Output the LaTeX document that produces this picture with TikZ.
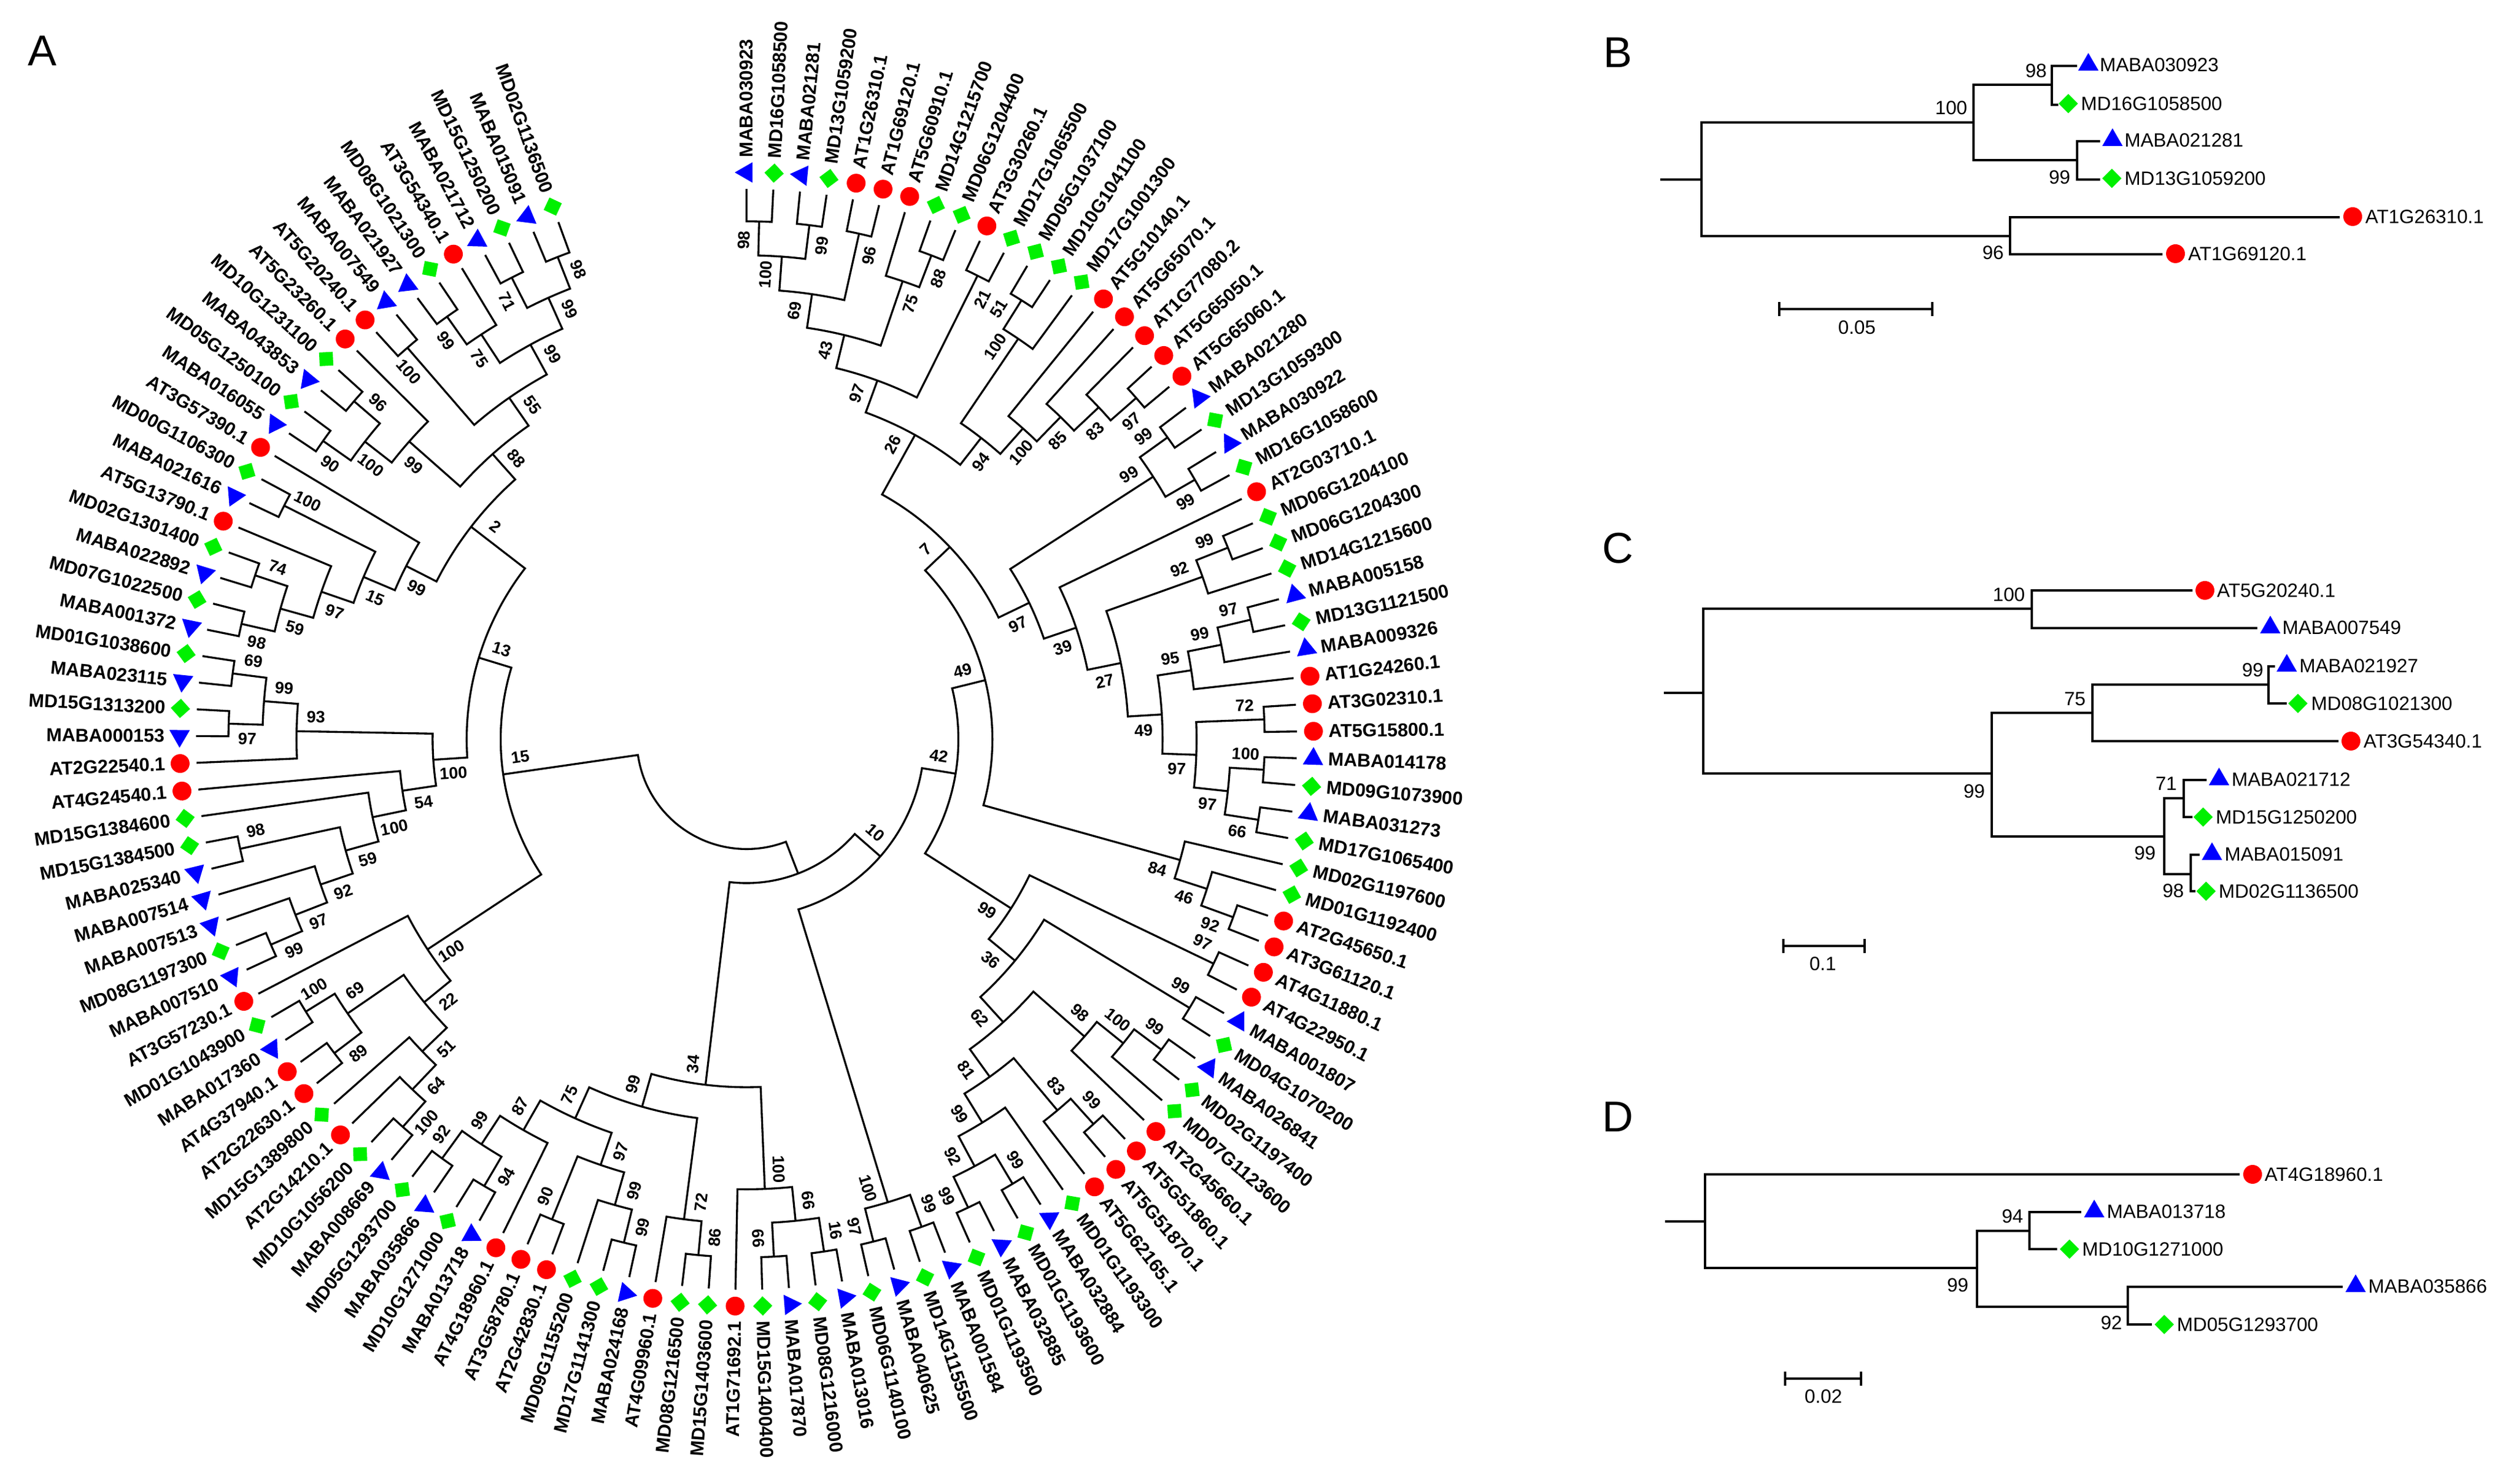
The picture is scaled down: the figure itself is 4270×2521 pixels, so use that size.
\documentclass[tikz,border=0pt]{standalone}
\usepackage{fontspec}
\setmainfont{Liberation Sans}
\usetikzlibrary{shapes.geometric}
\definecolor{cR}{RGB}{255,0,0}
\definecolor{cG}{RGB}{0,240,0}
\definecolor{cB}{RGB}{0,0,255}
\tikzset{
  br/.style={line width=1pt},
  pb/.style={line width=1.15pt},
  mR/.style={circle, fill=cR, inner sep=0pt, minimum size=9.6pt},
  mG/.style={diamond, fill=cG, inner sep=0pt, minimum width=10pt, minimum height=10pt},
  mB/.style={regular polygon, regular polygon sides=3, fill=cB, inner sep=0pt, minimum size=12pt},
  lab/.style={font=\fontsize{9.5}{11}\selectfont\bfseries, inner sep=0pt},
  bs/.style={font=\fontsize{8.4}{9}\selectfont\bfseries, inner sep=0pt},
  ptxt/.style={font=\fontsize{9.8}{11}\selectfont, inner sep=0pt},
  plet/.style={font=\fontsize{22}{26}\selectfont, inner sep=0pt},
}
% leaf: index, marker type, name
\newcommand\leaf[3]{%
  \pgfmathsetmacro\lfA{90-(#1-1)*2.787}%
  \expandafter\xdef\csname tA@#1\endcsname{\lfA}%
  \expandafter\xdef\csname tR@#1\endcsname{935}%
  \expandafter\gdef\csname tL@#1\endcsname{}%
  \edef\lfdo{\noexpand\node[m#2, rotate=\lfA] (L#1) at (\lfA:963) {};}\lfdo
  \pgfmathtruncatemacro\lfS{\lfA>-90 ? 1 : 0}%
  \ifnum\lfS=1
    \node[lab, anchor=west, rotate=\lfA] at (\lfA:988) {#3};
  \else
    \pgfmathsetmacro\lfB{\lfA+180}%
    \node[lab, anchor=east, rotate=\lfB] at (\lfA:988) {#3};
  \fi
}
% bootstrap label of a child
\newcommand\bslab[4]{%
  \edef\bsT{\csname tL@#1\endcsname}%
  \ifx\bsT\empty\else
    \pgfmathsetmacro\bsR{#3-32}%
    \pgfmathsetmacro\bsA{#2+#4*25/\bsR*57.2958}%
    \pgfmathsetmacro\bsRot{#2>-90 ? #2 : #2+180}%
    \node[bs, rotate=\bsRot] at (\bsA:\bsR) {\bsT};
  \fi
}
% internal node: name, child1, child2, height, bootstrap
\newcommand\tn[5]{%
  \pgfmathsetmacro\tnA{\csname tA@#2\endcsname}%
  \pgfmathsetmacro\tnB{\csname tA@#3\endcsname}%
  \edef\tnRa{\csname tR@#2\endcsname}%
  \edef\tnRb{\csname tR@#3\endcsname}%
  \pgfmathsetmacro\tnR{937.8-57.8*#4}%
  \pgfmathsetmacro\tnM{(\tnA+\tnB)/2}%
  \expandafter\xdef\csname tA@#1\endcsname{\tnM}%
  \expandafter\xdef\csname tR@#1\endcsname{\tnR}%
  \expandafter\gdef\csname tL@#1\endcsname{#5}%
  \draw[br] (\tnA:\tnRa) -- (\tnA:\tnR) arc[start angle=\tnA, end angle=\tnB, radius=\tnR] -- (\tnB:\tnRb);
  \coordinate (#1) at (\tnM:\tnR);
  \bslab{#2}{\tnA}{\tnRa}{1}%
  \bslab{#3}{\tnB}{\tnRb}{(-1)}%
}
\begin{document}
\begin{tikzpicture}[x=0.3pt,y=0.3pt]
\fill[white] (0,0) rectangle (4270,2521);
\useasboundingbox (0,0) rectangle (4270,2521);

%================ Panel A: circular tree ================
\begin{scope}[shift={(1268,1265)}]
\foreach \i/\ty/\nm in {
1/B/MABA030923, 2/G/MD16G1058500, 3/B/MABA021281, 4/G/MD13G1059200,
5/R/AT1G26310.1, 6/R/AT1G69120.1, 7/R/AT5G60910.1, 8/G/MD14G1215700,
9/G/MD06G1204400, 10/R/AT3G30260.1, 11/G/MD17G1065500, 12/G/MD05G1037100,
13/G/MD10G1041100, 14/G/MD17G1001300, 15/R/AT5G10140.1, 16/R/AT5G65070.1,
17/R/AT1G77080.2, 18/R/AT5G65050.1, 19/R/AT5G65060.1, 20/B/MABA021280,
21/G/MD13G1059300, 22/B/MABA030922, 23/G/MD16G1058600, 24/R/AT2G03710.1,
25/G/MD06G1204100, 26/G/MD06G1204300, 27/G/MD14G1215600, 28/B/MABA005158,
29/G/MD13G1121500, 30/B/MABA009326, 31/R/AT1G24260.1, 32/R/AT3G02310.1,
33/R/AT5G15800.1, 34/B/MABA014178, 35/G/MD09G1073900, 36/B/MABA031273,
37/G/MD17G1065400, 38/G/MD02G1197600, 39/G/MD01G1192400, 40/R/AT2G45650.1,
41/R/AT3G61120.1, 42/R/AT4G11880.1, 43/R/AT4G22950.1, 44/B/MABA001807,
45/G/MD04G1070200, 46/B/MABA026841, 47/G/MD02G1197400, 48/G/MD07G1123600,
49/R/AT2G45660.1, 50/R/AT5G51860.1, 51/R/AT5G51870.1, 52/R/AT5G62165.1,
53/G/MD01G1193300, 54/B/MABA032884, 55/G/MD01G1193600, 56/B/MABA032885,
57/G/MD01G1193500, 58/B/MABA001584, 59/G/MD14G1155500, 60/B/MABA040625,
61/G/MD06G1140100, 62/B/MABA013016, 63/G/MD08G1216000, 64/B/MABA017870,
65/G/MD15G1400400, 66/R/AT1G71692.1, 67/G/MD15G1403600, 68/G/MD08G1216500,
69/R/AT4G09960.1, 70/B/MABA024168, 71/G/MD17G1141300, 72/G/MD09G1155200,
73/R/AT2G42830.1, 74/R/AT3G58780.1, 75/R/AT4G18960.1, 76/B/MABA013718,
77/G/MD10G1271000, 78/B/MABA035866, 79/G/MD05G1293700, 80/B/MABA008669,
81/G/MD10G1056200, 82/R/AT2G14210.1, 83/G/MD15G1389800, 84/R/AT2G22630.1,
85/R/AT4G37940.1, 86/B/MABA017360, 87/G/MD01G1043900, 88/R/AT3G57230.1,
89/B/MABA007510, 90/G/MD08G1197300, 91/B/MABA007513, 92/B/MABA007514,
93/B/MABA025340, 94/G/MD15G1384500, 95/G/MD15G1384600, 96/R/AT4G24540.1,
97/R/AT2G22540.1, 98/B/MABA000153, 99/G/MD15G1313200, 100/B/MABA023115,
101/G/MD01G1038600, 102/B/MABA001372, 103/G/MD07G1022500, 104/B/MABA022892,
105/G/MD02G1301400, 106/R/AT5G13790.1, 107/B/MABA021616, 108/G/MD00G1106300,
109/R/AT3G57390.1, 110/B/MABA016055, 111/G/MD05G1250100, 112/B/MABA043853,
113/G/MD10G1231100, 114/R/AT5G23260.1, 115/R/AT5G20240.1, 116/B/MABA007549,
117/B/MABA021927, 118/G/MD08G1021300, 119/R/AT3G54340.1, 120/B/MABA021712,
121/G/MD15G1250200, 122/B/MABA015091, 123/G/MD02G1136500}
{\leaf{\i}{\ty}{\nm}}

\tn{a98}{1}{2}{1}{98}
\tn{a99}{3}{4}{1}{99}
\tn{a100}{a98}{a99}{2}{100}
\tn{a96}{5}{6}{1}{96}
\tn{a69}{a100}{a96}{3}{69}
\tn{a88}{8}{9}{1}{88}
\tn{a75}{7}{a88}{2}{75}
\tn{a43}{a69}{a75}{4}{43}
\tn{a21}{10}{11}{1}{21}
\tn{a97}{a43}{a21}{5}{97}
\tn{a51}{12}{13}{1}{51}
\tn{a10c}{a51}{14}{2}{100}
\tn{b97}{18}{19}{1}{97}
\tn{b83}{17}{b97}{2}{83}
\tn{b85}{16}{b83}{3}{85}
\tn{b100}{15}{b85}{4}{100}
\tn{a94}{a10c}{b100}{5}{94}
\tn{a26}{a97}{a94}{6}{26}
\tn{c99a}{20}{21}{1}{99}
\tn{c99b}{22}{23}{1}{99}
\tn{c99c}{c99a}{c99b}{2}{99}
\tn{c99d}{25}{26}{1}{99}
\tn{c92}{c99d}{27}{2}{92}
\tn{c97a}{28}{29}{1}{97}
\tn{c99e}{c97a}{30}{2}{99}
\tn{c95}{c99e}{31}{3}{95}
\tn{c72}{32}{33}{1}{72}
\tn{c100}{34}{35}{1}{100}
\tn{c66}{36}{37}{1}{66}
\tn{c97b}{c100}{c66}{2}{97}
\tn{c97c}{c72}{c97b}{3}{97}
\tn{c49}{c95}{c97c}{4}{49}
\tn{c27}{c92}{c49}{5}{27}
\tn{c39}{24}{c27}{6}{39}
\tn{c97d}{c99c}{c39}{7}{97}
\tn{a7}{a26}{c97d}{8}{7}
\tn{c92b}{40}{41}{1}{92}
\tn{c46}{39}{c92b}{2}{46}
\tn{c84}{38}{c46}{3}{84}
\tn{n49}{a7}{c84}{9}{49}
\tn{z97}{42}{43}{1}{97}
\tn{z99a}{44}{45}{1}{99}
\tn{z99b}{46}{47}{1}{99}
\tn{z100}{z99b}{48}{2}{100}
\tn{z98}{z100}{49}{3}{98}
\tn{z99c}{50}{51}{1}{99}
\tn{z83}{z99c}{52}{2}{83}
\tn{z99d}{54}{55}{1}{99}
\tn{z99e}{56}{57}{1}{99}
\tn{z92}{z99d}{z99e}{2}{92}
\tn{z99f}{53}{z92}{3}{99}
\tn{z81}{z83}{z99f}{4}{81}
\tn{z62}{z98}{z81}{5}{62}
\tn{z36}{z99a}{z62}{6}{36}
\tn{zz}{z97}{z36}{7}{99}
\tn{n42}{n49}{zz}{10}{42}
\tn{w99a}{58}{59}{1}{99}
\tn{w99b}{60}{61}{1}{97}
\tn{ww}{w99a}{w99b}{2}{100}
\tn{n10}{n42}{ww}{11}{10}
\tn{v97}{62}{63}{1}{16}
\tn{v66}{64}{65}{1}{66}
\tn{vx}{v97}{v66}{2}{66}
\tn{v2}{vx}{66}{3}{100}
\tn{v86}{67}{68}{1}{86}
\tn{v1a}{v86}{69}{2}{72}
\tn{v99a}{70}{71}{1}{99}
\tn{v99b}{v99a}{72}{2}{99}
\tn{v90}{73}{74}{1}{90}
\tn{v1b1}{v99b}{v90}{3}{97}
\tn{v94}{76}{77}{1}{94}
\tn{v92}{78}{79}{1}{92}
\tn{v99c}{v94}{v92}{2}{99}
\tn{v1b2}{75}{v99c}{3}{87}
\tn{v1b}{v1b1}{v1b2}{4}{75}
\tn{v1}{v1a}{v1b}{5}{99}
\tn{vv}{v2}{v1}{6}{34}
\tn{h12}{n10}{vv}{12}{}
\tn{u100}{80}{81}{1}{100}
\tn{u64}{u100}{82}{2}{64}
\tn{u51}{u64}{83}{3}{51}
\tn{u89}{84}{85}{1}{89}
\tn{u100b}{86}{87}{1}{100}
\tn{u69}{u89}{u100b}{2}{69}
\tn{u22}{u51}{u69}{4}{22}
\tn{u1}{u22}{88}{5}{100}
\tn{d99}{89}{90}{1}{99}
\tn{d97}{d99}{91}{2}{97}
\tn{d92}{d97}{92}{3}{92}
\tn{d98}{93}{94}{1}{98}
\tn{d59}{d92}{d98}{4}{59}
\tn{d100}{d59}{95}{5}{100}
\tn{d54}{d100}{96}{6}{54}
\tn{e97}{98}{99}{1}{97}
\tn{e69}{100}{101}{1}{69}
\tn{e99}{e97}{e69}{2}{99}
\tn{e93}{97}{e99}{3}{93}
\tn{u2a}{d54}{e93}{7}{100}
\tn{f98}{102}{103}{1}{98}
\tn{f74}{104}{105}{1}{74}
\tn{f59}{f98}{f74}{2}{59}
\tn{f97}{f59}{106}{3}{97}
\tn{f100}{107}{108}{1}{100}
\tn{f15}{f97}{f100}{4}{15}
\tn{f99}{f15}{109}{5}{99}
\tn{x90}{110}{111}{1}{90}
\tn{x96}{112}{113}{1}{96}
\tn{x100}{x90}{x96}{2}{100}
\tn{x99}{x100}{114}{3}{99}
\tn{g100}{115}{116}{1}{100}
\tn{g99a}{117}{118}{1}{99}
\tn{g75}{g99a}{119}{2}{75}
\tn{g71}{120}{121}{1}{71}
\tn{g98}{122}{123}{1}{98}
\tn{g99b}{g71}{g98}{2}{99}
\tn{g99c}{g75}{g99b}{3}{99}
\tn{g55}{g100}{g99c}{4}{55}
\tn{g88}{x99}{g55}{5}{88}
\tn{u2b}{f99}{g88}{6}{2}
\tn{u2}{u2a}{u2b}{8}{13}
\tn{uu}{u1}{u2}{9}{15}
\tn{root}{h12}{uu}{13}{}
\end{scope}

%================ Panels B, C, D (image coordinates) ================
\begin{scope}[shift={(0,2521)}, yscale=-1]
\node[plet] (labA) at (72,86) {A};
\node[plet] (labB) at (2748,89) {B};
\node[plet] (labC) at (2748,931) {C};
\node[plet] (labD) at (2748,1897) {D};

% ---- B ----
\draw[pb] (2820,305) -- (2890,305);
\draw[pb] (3352,208) -- (2890,208) -- (2890,401) -- (3414,401);
\draw[pb] (3485,144) -- (3352,144) -- (3352,272) -- (3528,272);
\draw[pb] (3528,112) -- (3485,112) -- (3485,178) -- (3496,178);
\draw[pb] (3567,240) -- (3528,240) -- (3528,305) -- (3567,305);
\draw[pb] (3974,369) -- (3414,369) -- (3414,432) -- (3673,432);
\node[ptxt, anchor=east] at (3342,183) {100};
\node[ptxt, anchor=east] at (3477,120) {98};
\node[ptxt, anchor=east] at (3517,301) {99};
\node[ptxt, anchor=east] at (3404,429) {96};
\node[mB] (b1) at (3547,110) {};  \node[ptxt, anchor=west] at (3566,110) {MABA030923};
\node[mG] (b2) at (3513,176) {};  \node[ptxt, anchor=west] at (3534,176) {MD16G1058500};
\node[mB] (b3) at (3588,238) {};  \node[ptxt, anchor=west] at (3608,238) {MABA021281};
\node[mG] (b4) at (3587,303) {};  \node[ptxt, anchor=west] at (3608,303) {MD13G1059200};
\node[mR] (b5) at (3996,368) {};  \node[ptxt, anchor=west] at (4017,368) {AT1G26310.1};
\node[mR] (b6) at (3695,431) {};  \node[ptxt, anchor=west] at (3716,431) {AT1G69120.1};
\draw[pb] (3022,513) -- (3022,537) (3022,525) -- (3282,525) (3282,513) -- (3282,537);
\node[ptxt] at (3154,556) {0.05};

% ---- C ----
\draw[pb] (2826,1177) -- (2893,1177);
\draw[pb] (3451,1034) -- (2893,1034) -- (2893,1314) -- (3383,1314);
\draw[pb] (3724,1003) -- (3451,1003) -- (3451,1067) -- (3834,1067);
\draw[pb] (3554,1211) -- (3383,1211) -- (3383,1421) -- (3676,1421);
\draw[pb] (3853,1163) -- (3554,1163) -- (3554,1259) -- (3972,1259);
\draw[pb] (3864,1132) -- (3853,1132) -- (3853,1195) -- (3884,1195);
\draw[pb] (3709,1356) -- (3676,1356) -- (3676,1485) -- (3721,1485);
\draw[pb] (3748,1325) -- (3709,1325) -- (3709,1388) -- (3724,1388);
\draw[pb] (3736,1452) -- (3721,1452) -- (3721,1514) -- (3729,1514);
\node[ptxt, anchor=east] at (3440,1010) {100};
\node[ptxt, anchor=east] at (3372,1344) {99};
\node[ptxt, anchor=east] at (3543,1187) {75};
\node[ptxt, anchor=east] at (3845,1138) {99};
\node[ptxt, anchor=east] at (3662,1449) {99};
\node[ptxt, anchor=east] at (3698,1331) {71};
\node[ptxt, anchor=east] at (3710,1513) {98};
\node[mR] (c1) at (3745,1003) {}; \node[ptxt, anchor=west] at (3765,1003) {AT5G20240.1};
\node[mB] (c2) at (3856,1066) {}; \node[ptxt, anchor=west] at (3876,1066) {MABA007549};
\node[mB] (c3) at (3884,1131) {}; \node[ptxt, anchor=west] at (3905,1131) {MABA021927};
\node[mG] (c4) at (3903,1195) {}; \node[ptxt, anchor=west] at (3925,1195) {MD08G1021300};
\node[mR] (c5) at (3993,1259) {}; \node[ptxt, anchor=west] at (4014,1259) {AT3G54340.1};
\node[mB] (c6) at (3769,1324) {}; \node[ptxt, anchor=west] at (3790,1324) {MABA021712};
\node[mG] (c7) at (3742,1388) {}; \node[ptxt, anchor=west] at (3763,1388) {MD15G1250200};
\node[mB] (c8) at (3757,1451) {}; \node[ptxt, anchor=west] at (3778,1451) {MABA015091};
\node[mG] (c9) at (3747,1514) {}; \node[ptxt, anchor=west] at (3768,1514) {MD02G1136500};
\draw[pb] (3029,1595) -- (3029,1619) (3029,1607) -- (3167,1607) (3167,1595) -- (3167,1619);
\node[ptxt] at (3096,1637) {0.1};

% ---- D ----
\draw[pb] (2828,2075) -- (2896,2075);
\draw[pb] (3804,1995) -- (2896,1995) -- (2896,2154) -- (3358,2154);
\draw[pb] (3447,2091) -- (3358,2091) -- (3358,2220) -- (3614,2220);
\draw[pb] (3535,2059) -- (3447,2059) -- (3447,2122) -- (3494,2122);
\draw[pb] (3979,2186) -- (3614,2186) -- (3614,2250) -- (3655,2250);
\node[ptxt, anchor=east] at (3344,2183) {99};
\node[ptxt, anchor=east] at (3437,2066) {94};
\node[ptxt, anchor=east] at (3605,2247) {92};
\node[mR] (d1) at (3826,1995) {}; \node[ptxt, anchor=west] at (3846,1995) {AT4G18960.1};
\node[mB] (d2) at (3557,2058) {}; \node[ptxt, anchor=west] at (3578,2058) {MABA013718};
\node[mG] (d3) at (3515,2122) {}; \node[ptxt, anchor=west] at (3536,2122) {MD10G1271000};
\node[mB] (d4) at (4001,2185) {}; \node[ptxt, anchor=west] at (4022,2185) {MABA035866};
\node[mG] (d5) at (3676,2250) {}; \node[ptxt, anchor=west] at (3697,2250) {MD05G1293700};
\draw[pb] (3032,2330) -- (3032,2354) (3032,2342) -- (3161,2342) (3161,2330) -- (3161,2354);
\node[ptxt] at (3097,2372) {0.02};
\end{scope}
\end{tikzpicture}
\end{document}
